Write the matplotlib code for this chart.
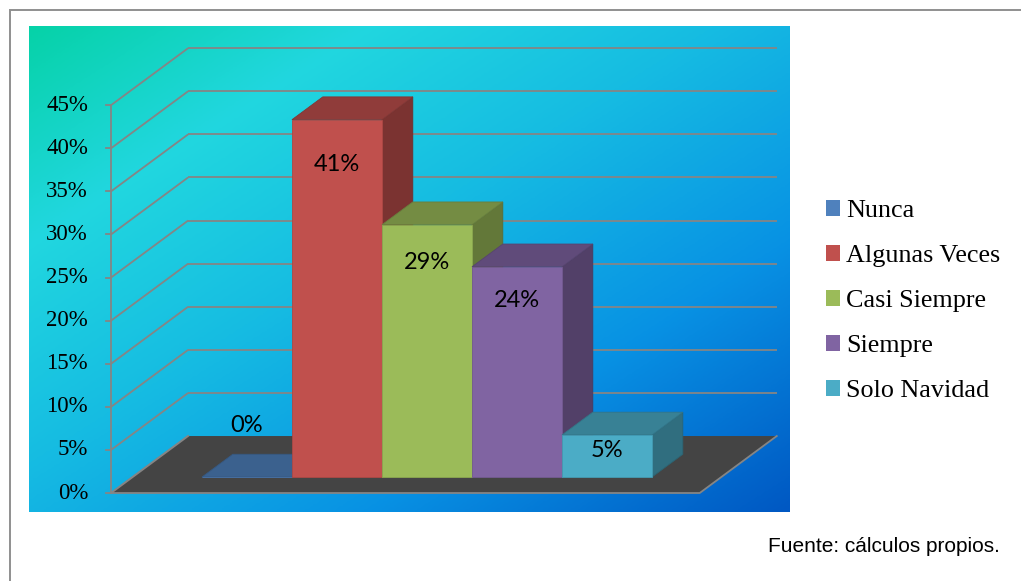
import numpy as np
import matplotlib
matplotlib.use("Agg")
import matplotlib.pyplot as plt
from matplotlib.patches import Polygon, Rectangle, Patch
from matplotlib.colors import LinearSegmentedColormap, to_rgb

# ---------------- data ----------------
categories = ["Nunca", "Algunas Veces", "Casi Siempre", "Siempre", "Solo Navidad"]
values = [0.0, 41.46, 29.27, 24.39, 4.88]
value_labels = ["0%", "41%", "29%", "24%", "5%"]
colors = ["#4F81BD", "#C0504D", "#9BBB59", "#8064A2", "#4BACC6"]
yticks = [0, 5, 10, 15, 20, 25, 30, 35, 40, 45]
ytick_labels = ["0%", "5%", "10%", "15%", "20%", "25%", "30%", "35%", "40%", "45%"]
source = "Fuente: cálculos propios."

# ---------------- layout / style ----------------
W, H = 1021, 581
GRID = "#858585"
FL, FR = -1.27, 5.27          # floor extent (category units)
DX, DY = 0.856, 6.61          # full depth offset (x units, % units)
D0, D1 = 0.28, 0.68           # bar depth range (fraction of floor depth)
XL, XR = -2.182, 6.262
YB, YT = -2.204, 54.18

fig = plt.figure(figsize=(W / 100, H / 100), dpi=100)
fig.patch.set_facecolor("white")

# outer frame
top_y = (H - 10.5) / H
fig.add_artist(Rectangle((9.5 / W, -0.05), 1.2, top_y + 0.05, transform=fig.transFigure,
                         fill=False, edgecolor="#8f8f8f", lw=1.4))

ax = fig.add_axes([29 / W, (H - 512) / H, 760 / W, 486 / H])
ax.set_xlim(XL, XR)
ax.set_ylim(YB, YT)
ax.axis("off")

# gradient background
cmap = LinearSegmentedColormap.from_list(
    "bg", [(0.0, "#06D2A8"), (0.22, "#21D7DF"), (0.45, "#16BCE2"),
           (0.72, "#0892E4"), (1.0, "#0058C3")])
u = np.linspace(0, 1, 400)
v = np.linspace(0, 1, 300)
U, V = np.meshgrid(u, v)
T = 0.5 * U + 0.5 * V
ax.imshow(cmap(T), extent=(XL, XR, YB, YT), aspect="auto", origin="upper",
          zorder=0, interpolation="bilinear")

# gridlines (side and back wall)
for t in yticks:
    ax.plot([FL, FL + DX], [t, t + DY], color=GRID, lw=1.3, zorder=1,
            solid_capstyle="butt")
    if t > 0:
        ax.plot([FL + DX, FR + DX], [t + DY, t + DY], color=GRID, lw=1.3, zorder=1,
                solid_capstyle="butt")

# floor
floor = [(FL, 0), (FL + DX, DY), (FR + DX, DY), (FR, 0)]
ax.add_patch(Polygon(floor, closed=True, facecolor="#444444", edgecolor="none", zorder=2))
ax.plot([FL + DX, FL, FR, FR + DX], [DY, 0, 0, DY], color=GRID, lw=1.3, zorder=2.5)

# vertical axis + ticks + labels
ax.plot([FL, FL], [0, yticks[-1]], color=GRID, lw=1.3, zorder=2.6)
tick_len = 5 / 90
for t, lab in zip(yticks, ytick_labels):
    ax.plot([FL - tick_len, FL], [t, t], color=GRID, lw=1.3, zorder=2.6)
    ax.text(FL - 23 / 90, t, lab, ha="right", va="center",
            family="Liberation Serif", fontsize=16.5, color="black")


def shade(c, f):
    return tuple(np.clip(np.array(to_rgb(c)) * f, 0, 1))


bx0, by0 = D0 * DX, D0 * DY
bdx, bdy = (D1 - D0) * DX, (D1 - D0) * DY
for i, (val, c, lab) in enumerate(zip(values, colors, value_labels)):
    x0, x1 = i - 0.5 + bx0, i + 0.5 + bx0
    y0, y1 = by0, by0 + val
    z = 3 + i * 0.1
    side = [(x1, y0), (x1 + bdx, y0 + bdy), (x1 + bdx, y1 + bdy), (x1, y1)]
    top = [(x0, y1), (x1, y1), (x1 + bdx, y1 + bdy), (x0 + bdx, y1 + bdy)]
    front = [(x0, y0), (x1, y0), (x1, y1), (x0, y1)]
    ax.add_patch(Polygon(side, closed=True, facecolor=shade(c, 0.64),
                         edgecolor=shade(c, 0.58), lw=0.6, zorder=z))
    ax.add_patch(Polygon(top, closed=True, facecolor=shade(c, 0.75),
                         edgecolor=shade(c, 0.68), lw=0.6, zorder=z + 0.01))
    ax.add_patch(Polygon(front, closed=True, facecolor=c,
                         edgecolor=shade(c, 0.9), lw=0.6, zorder=z + 0.02))
    ly = y1 + 6.0 if val == 0 else y1 - 0.8 * np.sqrt(val)
    ax.text((x0 + x1) / 2, ly, lab, ha="center", va="center",
            family="Lato", fontsize=17, color="black", zorder=10)

# legend
handles = [Patch(facecolor=c, edgecolor="none") for c in colors]
fig.legend(handles, categories, loc="upper left",
           bbox_to_anchor=(826 / W, (H - 200) / H), frameon=False,
           prop={"family": "Liberation Serif", "size": 18.8},
           handlelength=0.55, handleheight=0.55, handletextpad=0.22,
           labelspacing=0.88, borderpad=0, borderaxespad=0)

# source note
fig.text(1000 / W, (H - 547) / H, source, ha="right", va="center",
         family="Liberation Sans", fontsize=15, color="black")

fig.savefig("out.png", dpi=100)
